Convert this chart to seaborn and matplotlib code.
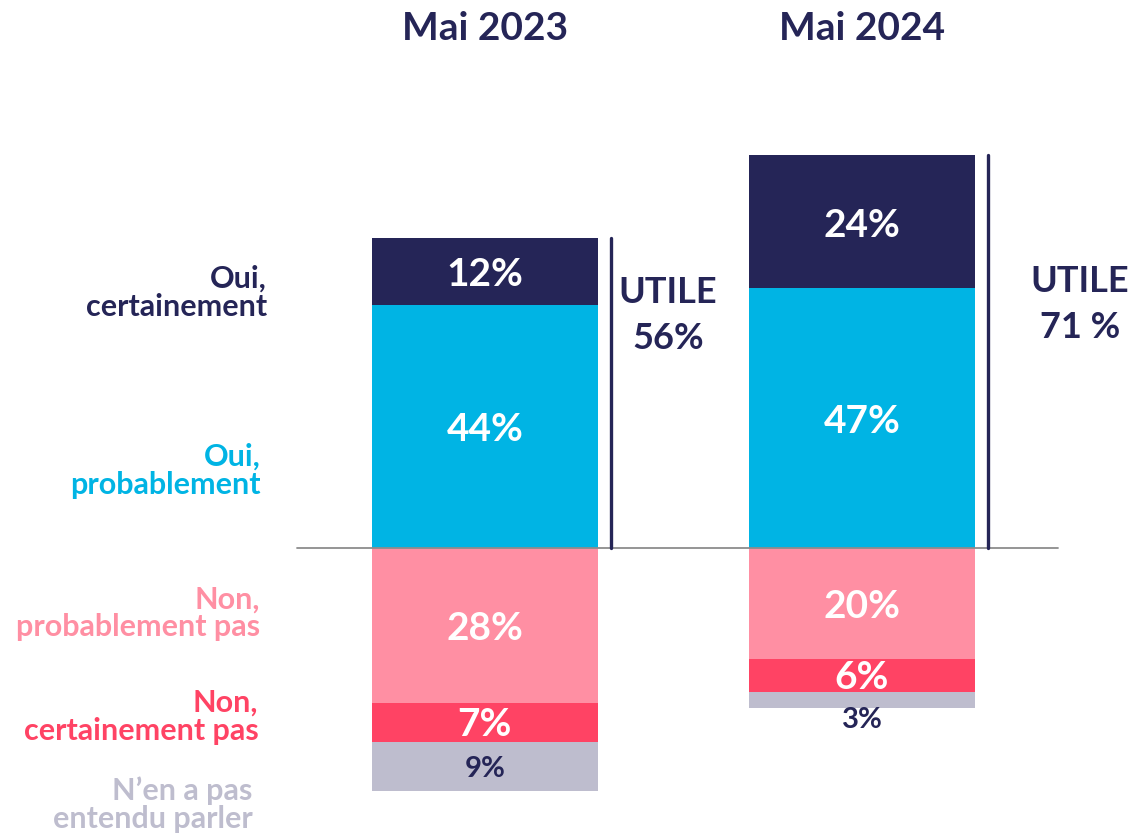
import numpy as np
import matplotlib
matplotlib.use("Agg")
import matplotlib.pyplot as plt
import pandas as pd
import seaborn as sns

# Data
years = ["Mai 2023", "Mai 2024"]
oui_certainement = [12, 24]
oui_probablement = [44, 47]
non_probablement_pas = [28, 20]
non_certainement_pas = [7, 6]
pas_entendu = [9, 3]
utile_labels = ["56%", "71 %"]

categories = ["Oui,\ncertainement", "Oui,\nprobablement", "Non,\nprobablement pas",
              "Non,\ncertainement pas", "N\u2019en a pas\nentendu parler"]

navy = "#252557"
cyan = "#00B4E4"
pink = "#FF8FA3"
red = "#FF4364"
grey = "#BEBDCE"

sns.set_theme(style="white")
plt.rcParams["font.family"] = ["Lato", "DejaVu Sans"]

df = pd.DataFrame({
    "year": years,
    "oc": oui_certainement,
    "op": oui_probablement,
    "npp": non_probablement_pas,
    "ncp": non_certainement_pas,
    "ne": pas_entendu,
})
df["pos_total"] = df["oc"] + df["op"]
df["neg_pink"] = -df["npp"]
df["neg_red"] = -(df["npp"] + df["ncp"])
df["neg_grey"] = -(df["npp"] + df["ncp"] + df["ne"])

fig = plt.figure(figsize=(11.32, 8.34), dpi=100)
ax = fig.add_axes([0, 0, 1, 1])

# stacked layers: draw the outer totals first, then the inner parts on top
layers = [("pos_total", navy), ("op", cyan), ("neg_grey", grey), ("neg_red", red), ("neg_pink", pink)]
for col, c in layers:
    sns.barplot(data=df, x="year", y=col, color=c, saturation=1, width=0.6,
                errorbar=None, linewidth=0, ax=ax)

ax.set_xlim(-1.286, 1.716)
ax.set_ylim(-286 / 5.53, 548 / 5.53)
ax.axis("off")

# baseline
ax.plot([-0.499, 1.52], [0, 0], color="#8C8C8C", lw=1.3, zorder=3)

# value labels inside segments
for i in range(len(years)):
    segs = [
        (df["op"][i], df["op"][i] + df["oc"][i], oui_certainement[i], "white"),
        (0, df["op"][i], oui_probablement[i], "white"),
        (0, df["neg_pink"][i], non_probablement_pas[i], "white"),
        (df["neg_pink"][i], df["neg_red"][i], non_certainement_pas[i], "white"),
        (df["neg_red"][i], df["neg_grey"][i], pas_entendu[i], navy),
    ]
    for lo, hi, v, tc in segs:
        if v < 5:
            ax.text(i, hi + 0.2, f"{v}%", ha="center", va="top", color=tc,
                    fontsize=21, fontweight="bold")
        elif v < 10:
            ax.text(i, (lo + hi) / 2 - 0.4, f"{v}%", ha="center", va="center", color=tc,
                    fontsize=28 if tc == "white" else 21, fontweight="bold")
        else:
            ax.text(i, (lo + hi) / 2 - 0.6, f"{v}%", ha="center", va="center", color=tc,
                    fontsize=28, fontweight="bold")

    # year titles
    ax.text(i, 94.0, years[i], ha="center", va="center", color=navy,
            fontsize=28, fontweight="bold")

    # UTILE bracket
    total = df["pos_total"][i]
    ax.plot([i + 0.335, i + 0.335], [0, total], color=navy, lw=2.4, zorder=3)

utile_x = [0.485, 1.578]
utile_y = [42.0, 44.0]
for i in range(len(years)):
    ax.text(utile_x[i], utile_y[i], "UTILE\n" + utile_labels[i], ha="center", va="center",
            color=navy, fontsize=26, fontweight="bold", linespacing=1.5)

# category labels on the left
cat_y = [46.1, 14.0, -11.8, -30.5, -46.5]
cat_colors = [navy, cyan, pink, red, grey]
cat_x = [-0.578, -0.596, -0.596, -0.601, -0.617]
for t, y, c, x in zip(categories, cat_y, cat_colors, cat_x):
    ax.text(x, y, t, ha="right", va="center", color=c, fontsize=22,
            fontweight="bold", linespacing=1.0)

fig.savefig("out.png", dpi=100)
